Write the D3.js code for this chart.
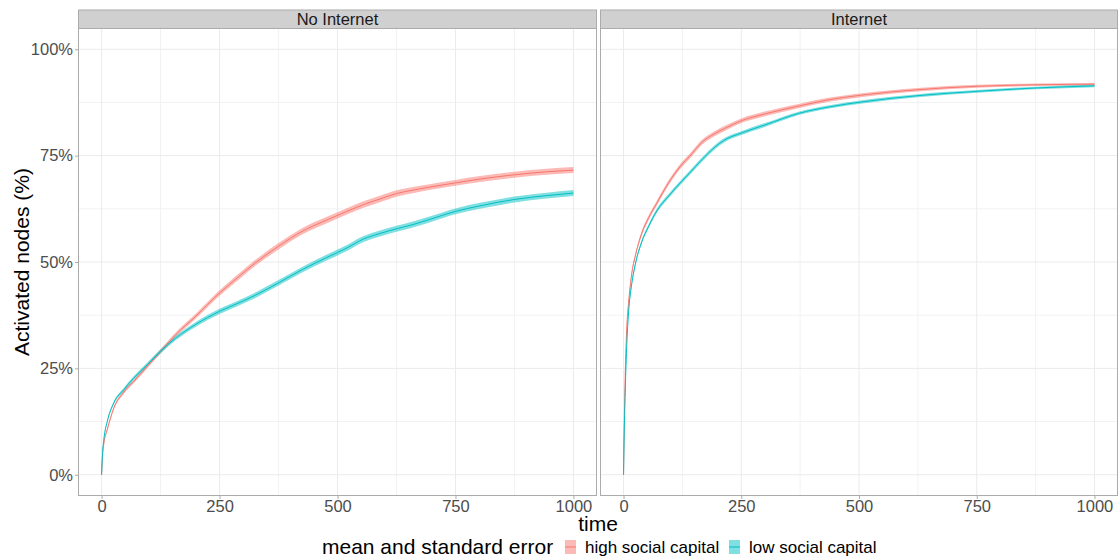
<!DOCTYPE html>
<html>
<head>
<meta charset="utf-8">
<script src="https://cdn.jsdelivr.net/npm/d3@7"></script>
<style>
  html, body { margin: 0; padding: 0; background: #fff; }
  svg { display: block; font-family: "Liberation Sans", Arial, sans-serif; }
</style>
</head>
<body>
<svg id="chart" width="1118" height="560"></svg>
<script>
// ---------------- DATA ----------------
const panels = ["No Internet", "Internet"];
const seriesNames = ["high social capital", "low social capital"];
const xTicks = [0, 250, 500, 750, 1000];
const yTicks = [0, 25, 50, 75, 100];
const yTickLabels = ["0%", "25%", "50%", "75%", "100%"];

// No Internet panel
const timeNoInternet = [0, 2, 5, 12, 26, 47, 68, 97, 125, 157, 199, 250, 291, 326, 375, 425, 480, 520, 555, 590, 625, 660, 695, 750, 802, 875, 943, 1000];
const highNoInternet = [0, 4.5, 7.5, 10.6, 15.7, 19.4, 21.9, 25.5, 29.0, 32.9, 37.2, 42.7, 46.6, 49.8, 53.7, 57.2, 60.0, 61.9, 63.5, 64.8, 66.1, 66.9, 67.6, 68.6, 69.5, 70.5, 71.2, 71.6];
const highNoInternetSE = [0, 0.2, 0.25, 0.3, 0.35, 0.4, 0.42, 0.45, 0.5, 0.55, 0.6, 0.65, 0.7, 0.7, 0.75, 0.75, 0.75, 0.75, 0.75, 0.75, 0.75, 0.75, 0.7, 0.7, 0.7, 0.7, 0.7, 0.7];
const lowNoInternet = [0, 5.0, 8.5, 12.5, 16.9, 20.0, 22.7, 25.9, 29.0, 32.1, 35.3, 38.4, 40.4, 42.2, 45.1, 48.2, 51.2, 53.3, 55.4, 56.7, 57.8, 58.8, 60.0, 61.9, 63.2, 64.7, 65.6, 66.2];
const lowNoInternetSE = [0, 0.2, 0.25, 0.3, 0.35, 0.4, 0.42, 0.45, 0.5, 0.5, 0.55, 0.6, 0.6, 0.65, 0.65, 0.65, 0.7, 0.7, 0.7, 0.7, 0.7, 0.7, 0.7, 0.7, 0.7, 0.7, 0.7, 0.7];

// Internet panel
const timeInternet = [0, 1.5, 3.5, 7, 10.6, 17.6, 24.7, 38.8, 52.9, 70.5, 95, 123, 140, 166, 194, 215, 250, 300, 374, 434, 511, 625, 750, 875, 1000];
const highInternet = [0, 12, 23.1, 34.9, 40.3, 47.4, 51.3, 56.8, 60.3, 63.8, 68.5, 72.8, 74.8, 78.1, 80.2, 81.4, 83.2, 84.8, 86.7, 88.1, 89.3, 90.5, 91.3, 91.65, 91.8];
const highInternetSE = [0, 0.2, 0.3, 0.4, 0.45, 0.5, 0.5, 0.55, 0.55, 0.6, 0.6, 0.6, 0.6, 0.6, 0.6, 0.6, 0.55, 0.55, 0.5, 0.5, 0.45, 0.4, 0.35, 0.3, 0.3];
const lowInternet = [0, 10, 19.2, 30.9, 38.0, 45.0, 49.3, 54.8, 58.3, 62.0, 65.4, 68.9, 70.9, 74.0, 77.0, 78.7, 80.3, 82.2, 85.0, 86.4, 87.7, 89.1, 90.1, 90.9, 91.4];
const lowInternetSE = [0, 0.2, 0.3, 0.35, 0.4, 0.45, 0.45, 0.45, 0.5, 0.5, 0.5, 0.5, 0.5, 0.5, 0.5, 0.5, 0.45, 0.45, 0.4, 0.4, 0.4, 0.35, 0.3, 0.3, 0.3];

const colors = ["#F8766D", "#00BFC4"];

const panelData = [
  { name: panels[0], time: timeNoInternet,
    series: [ { v: highNoInternet, se: highNoInternetSE }, { v: lowNoInternet, se: lowNoInternetSE } ] },
  { name: panels[1], time: timeInternet,
    series: [ { v: highInternet, se: highInternetSE }, { v: lowInternet, se: lowInternetSE } ] }
];

// ---------------- LAYOUT ----------------
const svg = d3.select("#chart");
const panelTop = 28, panelBottom = 496;
const stripTop = 9.5;
const panelX = [[78, 597], [600, 1118]];

const y = d3.scaleLinear().domain([-5, 105]).range([panelBottom, panelTop]);

panelData.forEach((p, pi) => {
  const [x0, x1] = panelX[pi];
  const x = d3.scaleLinear().domain([-50, 1050]).range([x0, x1]);
  const g = svg.append("g");

  g.append("rect").attr("x", x0).attr("y", panelTop).attr("width", x1 - x0).attr("height", panelBottom - panelTop).attr("fill", "#fff");

  // minor grid
  const xMinor = [125, 375, 625, 875];
  const yMinor = [12.5, 37.5, 62.5, 87.5];
  g.selectAll(".xminor").data(xMinor).join("line")
    .attr("x1", d => x(d)).attr("x2", d => x(d)).attr("y1", panelTop).attr("y2", panelBottom)
    .attr("stroke", "#F2F2F2").attr("stroke-width", 1);
  g.selectAll(".yminor").data(yMinor).join("line")
    .attr("x1", x0).attr("x2", x1).attr("y1", d => y(d)).attr("y2", d => y(d))
    .attr("stroke", "#F2F2F2").attr("stroke-width", 1);
  // major grid
  g.selectAll(".xmajor").data(xTicks).join("line")
    .attr("x1", d => x(d)).attr("x2", d => x(d)).attr("y1", panelTop).attr("y2", panelBottom)
    .attr("stroke", "#EBEBEB").attr("stroke-width", 1);
  g.selectAll(".ymajor").data(yTicks).join("line")
    .attr("x1", x0).attr("x2", x1).attr("y1", d => y(d)).attr("y2", d => y(d))
    .attr("stroke", "#EBEBEB").attr("stroke-width", 1);

  // ribbons
  p.series.forEach((s, si) => {
    const pts = p.time.map((t, i) => ({ t, v: s.v[i], se: s.se[i] }));
    const area = d3.area().curve(d3.curveMonotoneX).x(d => x(d.t)).y0(d => y(d.v - d.se)).y1(d => y(d.v + d.se));
    g.append("path").datum(pts).attr("d", area)
      .attr("fill", colors[si]).attr("fill-opacity", 0.5);
  });
  // lines
  p.series.forEach((s, si) => {
    const pts = p.time.map((t, i) => ({ t, v: s.v[i] }));
    const line = d3.line().curve(d3.curveMonotoneX).x(d => x(d.t)).y(d => y(d.v));
    g.append("path").datum(pts).attr("d", line)
      .attr("fill", "none").attr("stroke", colors[si]).attr("stroke-width", 1);
  });

  // panel border
  g.append("rect").attr("x", x0 + 0.5).attr("y", panelTop + 0.5).attr("width", x1 - x0 - 1).attr("height", panelBottom - panelTop - 1)
    .attr("fill", "none").attr("stroke", "#ABABAB").attr("stroke-width", 1);

  // strip
  g.append("rect").attr("x", x0 + 0.5).attr("y", stripTop + 0.5).attr("width", x1 - x0 - 1).attr("height", panelTop - stripTop)
    .attr("fill", "#D0D0D0").attr("stroke", "#ABABAB").attr("stroke-width", 1);
  g.append("text").attr("x", (x0 + x1) / 2).attr("y", 24.5).attr("text-anchor", "middle")
    .attr("font-size", "16.5px").attr("fill", "#1A1A1A").text(p.name);

  // x axis
  const xAxis = d3.axisBottom(x).tickValues(xTicks).tickSize(3).tickPadding(1).tickFormat(d3.format("d"));
  const ax = g.append("g").attr("transform", `translate(0,${panelBottom})`).call(xAxis);
  ax.select(".domain").remove();
  ax.selectAll(".tick line").attr("stroke", "#ABABAB");
  ax.selectAll(".tick text").attr("font-size", "16.5px").attr("fill", "#4D4D4D")
    .attr("font-family", "'Liberation Sans', Arial, sans-serif");

  if (pi === 0) {
    const yAxis = d3.axisLeft(y).tickValues(yTicks).tickSize(3).tickPadding(2)
      .tickFormat((d, i) => yTickLabels[i]);
    const ay = g.append("g").attr("transform", `translate(${x0},0)`).call(yAxis);
    ay.select(".domain").remove();
    ay.selectAll(".tick line").attr("stroke", "#ABABAB");
    ay.selectAll(".tick text").attr("font-size", "16.5px").attr("fill", "#4D4D4D")
      .attr("font-family", "'Liberation Sans', Arial, sans-serif");
  }
});

// axis titles
svg.append("text").attr("transform", `translate(29,${(panelTop + panelBottom) / 2}) rotate(-90)`)
  .attr("text-anchor", "middle").attr("font-size", "21px").attr("fill", "#000")
  .text("Activated nodes (%)");
svg.append("text").attr("x", 598).attr("y", 531).attr("text-anchor", "middle")
  .attr("font-size", "21px").attr("fill", "#000").text("time");

// legend
const leg = svg.append("g");
leg.append("text").attr("x", 322).attr("y", 554).attr("font-size", "21px").attr("fill", "#000")
  .text("mean and standard error");
const keyX = [565, 729];
const labX = [585, 749];
seriesNames.forEach((n, i) => {
  leg.append("rect").attr("x", keyX[i]).attr("y", 540).attr("width", 11).attr("height", 14)
    .attr("fill", colors[i]).attr("fill-opacity", 0.5);
  leg.append("line").attr("x1", keyX[i]).attr("x2", keyX[i] + 11).attr("y1", 547).attr("y2", 547)
    .attr("stroke", colors[i]).attr("stroke-width", 1);
  leg.append("text").attr("x", labX[i]).attr("y", 553).attr("font-size", "17px").attr("fill", "#000")
    .text(n);
});
</script>
</body>
</html>
